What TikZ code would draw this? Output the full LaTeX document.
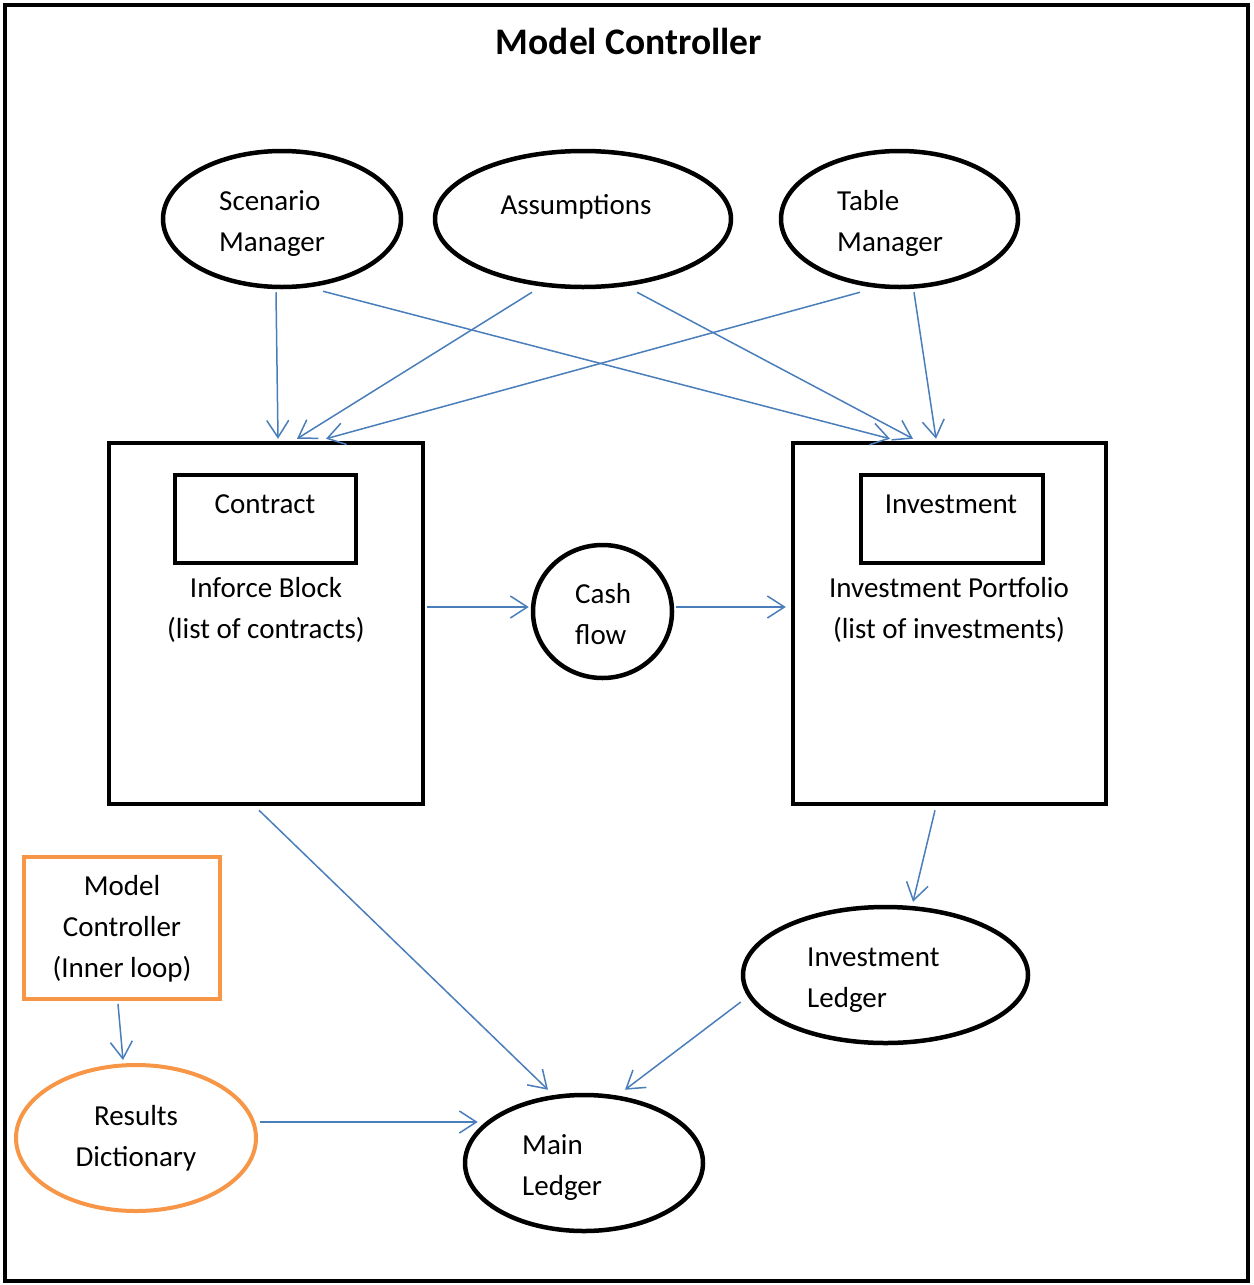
\documentclass[tikz,border=0pt]{standalone}
\usepackage{fontspec}
\setmainfont{Carlito}
\usetikzlibrary{arrows.meta,shapes.geometric,calc}
\definecolor{bluec}{HTML}{4A7EBB}
\definecolor{orgc}{HTML}{F79646}
\begin{document}
\begin{tikzpicture}[x=1pt,y=-1pt,
  blk/.style={draw=black,line width=4.5pt},
  ell/.style={blk,ellipse,inner sep=0pt},
  box/.style={blk,rectangle,inner sep=0pt},
  org/.style={draw=orgc,line width=4pt,inner sep=0pt},
  lbl/.style={inner sep=0pt,font=\fontsize{29}{41}\selectfont},
  conn/.style={draw=bluec,line width=1.5pt,-{Straight Barb[length=17pt,width=22pt]}},
]
\useasboundingbox (0,0) rectangle (1253,1285);
\draw[line width=4pt] (5,5) rectangle (1248,1281);
\node[inner sep=0pt,anchor=base,font=\bfseries\fontsize{37.5}{40}\selectfont] (title) at (629,54) {Model Controller};

% shapes
\node[ell,minimum width=238pt,minimum height=136pt] (sm) at (282,219) {};
\node[ell,minimum width=296pt,minimum height=136pt] (as) at (583,219) {};
\node[ell,minimum width=237pt,minimum height=136pt] (tm) at (899.5,219) {};
\node[box,minimum width=314pt,minimum height=361pt] (ib) at (266,623.5) {};
\node[box,minimum width=181pt,minimum height=88pt] (ct) at (265.5,519) {};
\node[box,minimum width=313pt,minimum height=361pt] (ip) at (949.5,623.5) {};
\node[box,minimum width=182pt,minimum height=88pt] (iv) at (952,519) {};
\node[ell,minimum width=139pt,minimum height=133pt] (cf) at (602.5,611.5) {};
\node[org,rectangle,minimum width=196pt,minimum height=142pt] (mc) at (122,928) {};
\node[org,ellipse,minimum width=240pt,minimum height=146pt] (rd) at (136,1138) {};
\node[ell,minimum width=238pt,minimum height=136pt] (ml) at (584,1163) {};
\node[ell,minimum width=285pt,minimum height=136pt] (il) at (885.5,975) {};

% labels
\node[lbl,anchor=base west] (t1) at (219,210) {Scenario};
\node[lbl,anchor=base west] (t2) at (219,251) {Manager};
\node[lbl,anchor=base] (t3) at (576,214) {Assumptions};
\node[lbl,anchor=base west] (t4) at (837,210) {Table};
\node[lbl,anchor=base west] (t5) at (837,251) {Manager};
\node[lbl,anchor=base] (t6) at (265,513) {Contract};
\node[lbl,anchor=base] (t7) at (266,597) {Inforce Block};
\node[lbl,anchor=base] (t8) at (266,638) {(list of contracts)};
\node[lbl,anchor=base west] (t9) at (575,603) {Cash};
\node[lbl,anchor=base west] (t10) at (575,644) {flow};
\node[lbl,anchor=base] (t11) at (951,513) {Investment};
\node[lbl,anchor=base] (t12) at (949,597) {Investment Portfolio};
\node[lbl,anchor=base] (t13) at (949,638) {(list of investments)};
\node[lbl,anchor=base] (t14) at (122,895) {Model};
\node[lbl,anchor=base] (t15) at (122,936) {Controller};
\node[lbl,anchor=base] (t16) at (122,977) {(Inner loop)};
\node[lbl,anchor=base] (t17) at (136,1125) {Results};
\node[lbl,anchor=base] (t18) at (136,1166) {Dictionary};
\node[lbl,anchor=base west] (t19) at (522,1154) {Main};
\node[lbl,anchor=base west] (t20) at (522,1195) {Ledger};
\node[lbl,anchor=base west] (t21) at (807,966) {Investment};
\node[lbl,anchor=base west] (t22) at (807,1007) {Ledger};

% connectors
\draw[conn] ($(sm.south)+(-6,3)$) -- ($(ib.north)+(12,-2)$);
\draw[conn] ($(sm.south)+(41,2)$) -- ($(ip.north)+(-59.5,-2)$);
\draw[conn] ($(as.south)+(-51,3)$) -- ($(ib.north)+(31,-2)$);
\draw[conn] ($(as.south)+(54,3)$) -- ($(ip.north)+(-36.5,-2)$);
\draw[conn] ($(tm.south)+(-39.5,3)$) -- ($(ib.north)+(60,-2)$);
\draw[conn] ($(tm.south)+(14.5,3)$) -- ($(ip.north)+(-13.5,-2)$);
\draw[conn] ($(ib.east)+(2,-16.5)$) -- ($(cf.west)+(-2,-4.5)$);
\draw[conn] ($(cf.east)+(2,-4.5)$) -- ($(ip.west)+(-5,-16.5)$);
\draw[conn] ($(ib.south)+(-7,4)$) -- ($(ml.north)+(-36,-3)$);
\draw[conn] ($(ip.south)+(-14.5,4)$) -- ($(il.north)+(27.5,-3)$);
\draw[conn] ($(il.west)+(0,27)$) -- ($(ml.north)+(41,-3)$);
\draw[conn] ($(mc.south)+(-4,3)$) -- ($(rd.north)+(-13,-3)$);
\draw[conn] ($(rd.east)+(2,-16)$) -- ($(ml.west)+(15,-41)$);
\end{tikzpicture}
\end{document}
